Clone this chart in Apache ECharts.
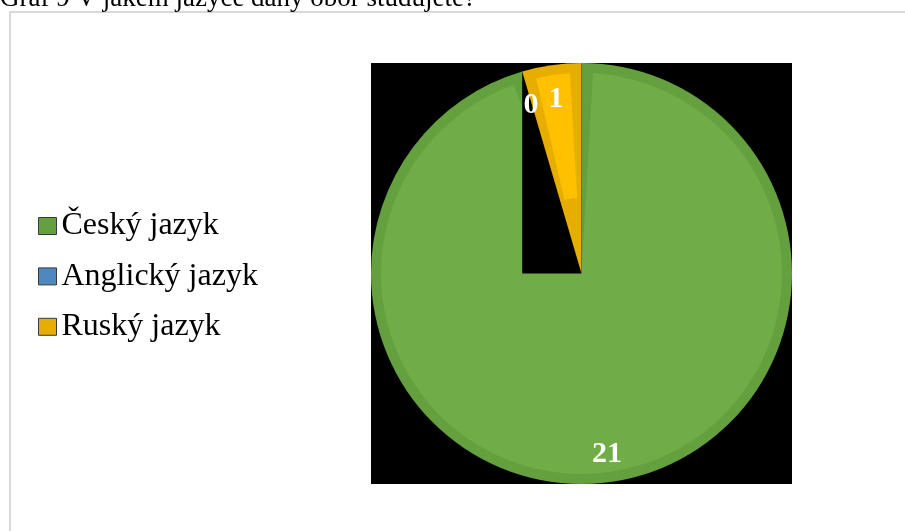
<!DOCTYPE html>
<html>
<head>
<meta charset="utf-8">
<script src="https://cdn.jsdelivr.net/npm/echarts@6/dist/echarts.min.js"></script>
<style>
  html, body { margin: 0; padding: 0; background: #fff; }
  #chart { width: 905px; height: 531px; }
</style>
</head>
<body>
<div id="chart"></div>
<script>
// Survey answers: language of study
const categories = ['Český jazyk', 'Anglický jazyk', 'Ruský jazyk'];
const counts = [21, 0, 1];
const chartTitle = 'Graf 9 V jakém jazyce daný obor studujete?';

// slice colours: face and darker bevel edge
const faceColors = ['#70ad47', '#5b9bd5', '#ffc000'];
const edgeColors = ['#64a03e', '#4f88c0', '#e7ad00'];

const FONT = 'Liberation Serif, Times New Roman, serif';
const cx = 581.5, cy = 273.5, R = 210.5;   // pie geometry
const bevel = 10;                           // bevel width in px
const insetDeg = 3.3;                       // bevel inset along slice edges

const total = counts.reduce((a, b) => a + b, 0);
const spanDeg = counts.map(v => 360 * v / total);
const startDeg = [];
let acc = 90;
spanDeg.forEach(s => { startDeg.push(acc); acc -= s; });

const chart = echarts.init(document.getElementById('chart'));

const pieData = categories.map((n, i) => ({ name: n, value: counts[i] }));
const transparent = 'rgba(0,0,0,0)';

function onlyColor(idx, colorArr) {
  return categories.map((n, i) => ({
    name: n, value: counts[i],
    itemStyle: { color: i === idx ? colorArr[i] : transparent }
  }));
}

function basePie(extra) {
  return Object.assign({
    type: 'pie',
    center: [cx, cy],
    startAngle: 90,
    clockwise: true,
    silent: true,
    animation: false,
    label: { show: false },
    labelLine: { show: false },
    emphasis: { disabled: true }
  }, extra);
}

// part of the first slice's bounding box left uncovered (drawn black)
const ySpanRad = spanDeg[2] * Math.PI / 180;
const notchW = R * Math.sin(ySpanRad);

const series = [
  // green slice: edge then face
  basePie({ z: 1, radius: R, data: onlyColor(0, edgeColors) }),
  basePie({
    z: 2, radius: R - bevel,
    startAngle: startDeg[0] - insetDeg,
    endAngle: startDeg[0] - spanDeg[0] + insetDeg,
    data: [{ name: categories[0], value: counts[0], itemStyle: { color: faceColors[0] } }]
  }),
  // gold slice: edge then face
  basePie({ z: 4, radius: R, data: onlyColor(2, edgeColors) }),
  basePie({
    z: 5, radius: [R * 0.36, R - bevel],
    startAngle: startDeg[2] - insetDeg,
    endAngle: startDeg[2] - spanDeg[2] + insetDeg,
    data: [{ name: categories[2], value: counts[2], itemStyle: { color: faceColors[2] } }]
  }),
  // value labels
  basePie({
    z: 6, radius: [R * 0.676, R],
    data: pieData.map(d => Object.assign({}, d, { itemStyle: { color: transparent } })),
    label: {
      show: true,
      position: 'inside',
      formatter: '{c}',
      offset: [0, 3.5],
      color: '#ffffff',
      fontFamily: FONT,
      fontWeight: 'bold',
      fontSize: 30
    }
  })
];

chart.setOption({
  backgroundColor: '#ffffff',
  animation: false,
  legend: {
    orient: 'vertical',
    left: 38,
    top: 210,
    itemWidth: 18,
    itemHeight: 17,
    itemGap: 18.4,
    padding: 0,
    selectedMode: false,
    icon: 'rect',
    data: categories.map((n, i) => ({
      name: n,
      itemStyle: { color: edgeColors[i], borderColor: '#3a3a3a', borderWidth: 1 }
    })),
    textStyle: { fontFamily: FONT, fontSize: 32, lineHeight: 32, color: '#000000' }
  },
  graphic: [
    {
      type: 'rect', z: -1, silent: true,
      shape: { x: 10, y: 12, width: 1400, height: 1400 },
      style: { fill: '#ffffff', stroke: '#d9d9d9', lineWidth: 2 }
    },
    {
      type: 'text', z: 0, silent: true,
      style: {
        text: chartTitle, x: 0, y: -1,
        verticalAlign: 'middle', align: 'left',
        font: '27px ' + FONT, fill: '#000000'
      }
    },
    {
      type: 'rect', z: 0, silent: true,
      shape: { x: cx - R, y: cy - R, width: 2 * R, height: 2 * R },
      style: { fill: '#000000' }
    },
    {
      type: 'rect', z: 3, silent: true,
      shape: { x: cx - notchW, y: cy - R, width: notchW, height: R },
      style: { fill: '#000000' }
    }
  ],
  series: series
});
</script>
</body>
</html>
